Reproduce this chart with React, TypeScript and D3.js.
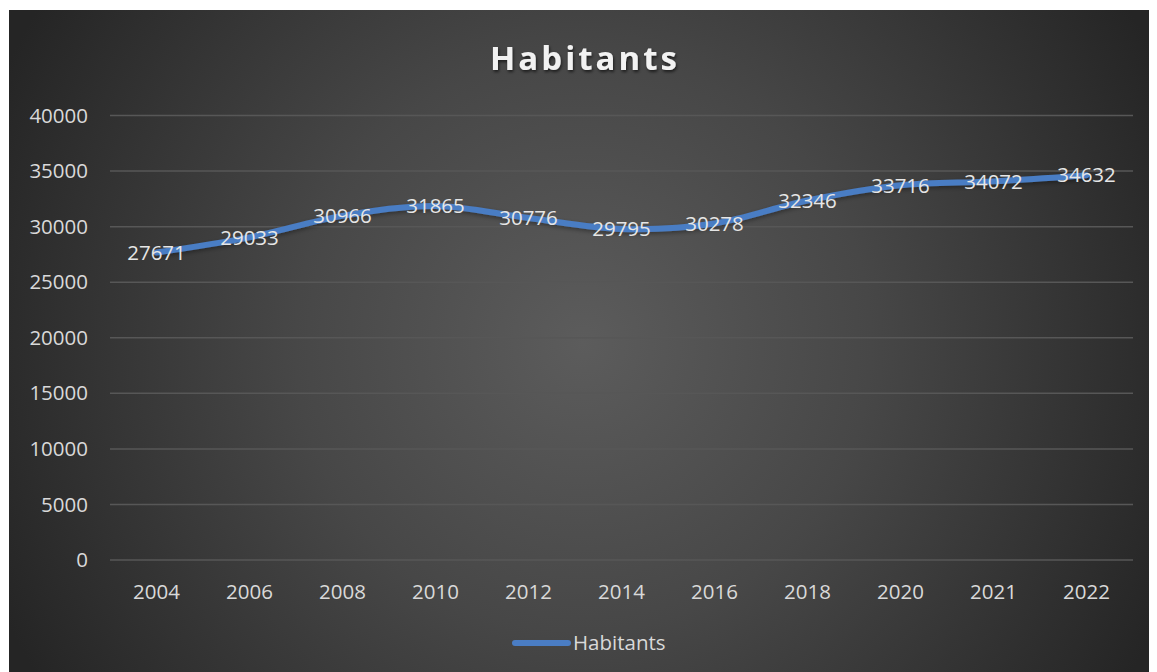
import React from "react";
import * as d3 from "d3";

const years = ["2004", "2006", "2008", "2010", "2012", "2014", "2016", "2018", "2020", "2021", "2022"];
const habitants = [27671, 29033, 30966, 31865, 30776, 29795, 30278, 32346, 33716, 34072, 34632];
const yTicks = [0, 5000, 10000, 15000, 20000, 25000, 30000, 35000, 40000];
const seriesName = "Habitants";
const titleText = "Habitants";

const W = 1149;
const H = 664;
const OX = -8; // page -> svg offset
const left = 110 + OX;
const right = 1133 + OX;
const top = 115.5 + OX;
const bottom = 560 + OX;
const font = "'Open Sans', 'Noto Sans', sans-serif";
const fs = 20.5;

export default function App() {
  const x = d3.scaleBand<string>().domain(years).range([left, right]);
  const y = d3.scaleLinear().domain([0, 40000]).range([bottom, top]);
  const cx = (d: string) => (x(d) as number) + x.bandwidth() / 2;
  const pts: [number, number][] = years.map((yr, i) => [cx(yr), y(habitants[i])]);
  const line = d3.line<[number, number]>().curve(d3.curveCatmullRom.alpha(0))(pts) as string;

  return (
    <svg width={W} height={H} style={{ display: "block" }}>
      <defs>
        <radialGradient id="bg" gradientUnits="userSpaceOnUse" cx={575} cy={335} r={640}>
          <stop offset="0" stopColor="#5c5c5c" />
          <stop offset="0.45" stopColor="#474747" />
          <stop offset="1" stopColor="#252525" />
        </radialGradient>
        <filter id="sh" x="-10%" y="-30%" width="120%" height="160%">
          <feDropShadow dx="1" dy="2" stdDeviation="1.5" floodColor="#000" floodOpacity="0.6" />
        </filter>
        <filter id="lsh" x="-5%" y="-20%" width="110%" height="140%">
          <feDropShadow dx="0" dy="2" stdDeviation="2" floodColor="#000" floodOpacity="0.35" />
        </filter>
      </defs>
      <rect x={1} y={2} width={W} height={H} fill="url(#bg)" />
      <text
        x={585 + OX}
        y={70 + OX}
        textAnchor="middle"
        fill="#f2f2f2"
        fontFamily={font}
        fontWeight="bold"
        fontSize={33}
        letterSpacing={3}
        filter="url(#sh)"
      >
        {titleText}
      </text>
      {yTicks.map((t) => (
        <g key={t}>
          <line x1={left} x2={right} y1={y(t)} y2={y(t)} stroke="#575757" strokeWidth={1.5} />
          <text
            x={88 + OX}
            y={y(t)}
            dy="0.35em"
            textAnchor="end"
            fill="#d9d9d9"
            fontFamily={font}
            fontSize={fs}
          >
            {t}
          </text>
        </g>
      ))}
      {years.map((yr) => (
        <text
          key={yr}
          x={cx(yr)}
          y={592 + OX}
          dy="0.35em"
          textAnchor="middle"
          fill="#d9d9d9"
          fontFamily={font}
          fontSize={fs}
        >
          {yr}
        </text>
      ))}
      <path d={line} fill="none" stroke="#4a7dc4" strokeWidth={6} strokeLinecap="round" strokeLinejoin="round" filter="url(#lsh)" />
      {habitants.map((v, i) => (
        <text
          key={i}
          x={cx(years[i])}
          y={y(v)}
          dy="0.35em"
          textAnchor="middle"
          fill="#e6e6e6"
          fontFamily={font}
          fontSize={fs}
        >
          {v}
        </text>
      ))}
      <line x1={515 + OX} x2={568 + OX} y1={643 + OX} y2={643 + OX} stroke="#4a7dc4" strokeWidth={6} strokeLinecap="round" />
      <text x={573 + OX} y={643 + OX} dy="0.35em" fill="#d9d9d9" fontFamily={font} fontSize={fs}>
        {seriesName}
      </text>
    </svg>
  );
}
